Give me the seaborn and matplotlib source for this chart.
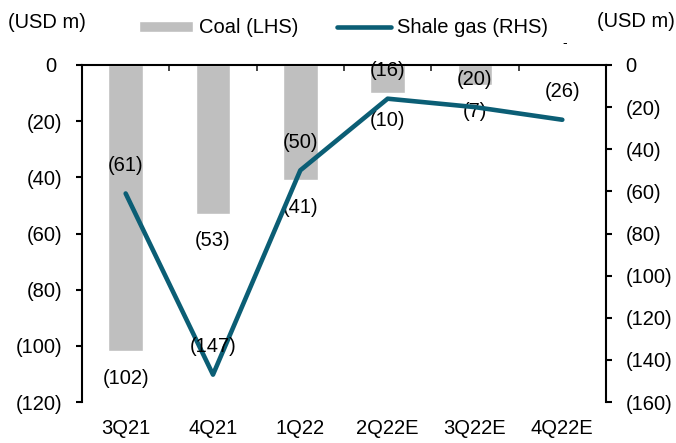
import pandas as pd
import matplotlib.pyplot as plt
import seaborn as sns

quarters = ['3Q21', '4Q21', '1Q22', '2Q22E', '3Q22E', '4Q22E']
coal = [-102, -53, -41, -10, -7, 0]
shale_gas = [-61, -147, -50, -16, -20, -26]

BAR_COLOR = '#BFBFBF'
LINE_COLOR = '#0B5E75'
FS = 14.5


def paren(v):
    return '0' if v == 0 else '({:.0f})'.format(abs(v))


df = pd.DataFrame({'quarter': quarters, 'coal': coal, 'shale_gas': shale_gas})

sns.set_style('white')
plt.rcParams['font.family'] = ['Liberation Sans', 'DejaVu Sans']
plt.rcParams['font.size'] = FS
plt.rcParams['text.color'] = 'black'

fig, ax = plt.subplots(figsize=(6.76, 4.43), dpi=100)
fig.subplots_adjust(left=0.1213, right=0.8964, top=0.8533, bottom=0.0925)

sns.barplot(data=df, x='quarter', y='coal', color=BAR_COLOR, width=0.4,
            saturation=1, ax=ax, legend=False)
ax2 = ax.twinx()
sns.lineplot(data=df, x='quarter', y='shale_gas', color=LINE_COLOR, linewidth=3.3,
             ax=ax2, legend=False)

ax.set_xlim(-0.5, len(quarters) - 0.5)
ax.set_ylim(-120, 0)
ax2.set_ylim(-160, 0)
left_ticks = list(range(-120, 1, 20))
right_ticks = list(range(-160, 1, 20))
ax.set_yticks(left_ticks)
ax.set_yticklabels([paren(v) if v else '0\u00a0' for v in left_ticks])
ax2.set_yticks(right_ticks)
ax2.set_yticklabels([paren(v) for v in right_ticks])
ax.set_xlabel('')
ax.set_ylabel('')
ax2.set_ylabel('')

for a in (ax, ax2):
    for s in ('top', 'bottom', 'left', 'right'):
        a.spines[s].set_visible(False)
    a.tick_params(axis='both', colors='black', labelsize=FS)
ax.spines['left'].set_visible(True)
ax.spines['top'].set_visible(True)
ax2.spines['right'].set_visible(True)
for s in (ax.spines['left'], ax.spines['top'], ax2.spines['right']):
    s.set_color('black')
    s.set_linewidth(1.5)

ax.tick_params(axis='y', direction='out', length=4, width=1.5, pad=10)
ax2.tick_params(axis='y', direction='out', length=4, width=1.5, pad=10)
ax.tick_params(axis='x', which='major', length=0, pad=12.5)
ax.set_xticks([i + 0.5 for i in range(len(quarters) - 1)], minor=True)
ax.tick_params(axis='x', which='minor', top=True, bottom=False, direction='in',
               length=4, width=1.2)

# data labels: bars below bar end, line above point
for i, v in enumerate(coal):
    if v != 0:
        ax.annotate(paren(v), (i, v), xytext=(0, -19.5), textcoords='offset points',
                    ha='center', va='center', fontsize=FS, color='black')
for i, v in enumerate(shale_gas):
    ax2.annotate(paren(v), (i, v), xytext=(0, 20), textcoords='offset points',
                 ha='center', va='center', fontsize=FS, color='black')

handles = ax.containers[0].patches[:1] + ax2.get_lines()[:1]
fig.legend(handles, ['Coal (LHS)', 'Shale gas (RHS)'], loc='center',
           bbox_to_anchor=(0.508, 0.937), ncol=2, frameon=False, fontsize=FS,
           handlelength=2.7, handleheight=0.45, columnspacing=1.9,
           handletextpad=0.3, borderpad=0, labelcolor='black')

fig.text(0.012, 0.95, '(USD m)', ha='left', va='center', fontsize=FS, color='black')
fig.text(0.999, 0.952, '(USD m)', ha='right', va='center', fontsize=FS, color='black')
fig.text(0.836, 0.903, '-', ha='center', va='center', fontsize=10, color='black')

fig.savefig('out.png', dpi=100)
